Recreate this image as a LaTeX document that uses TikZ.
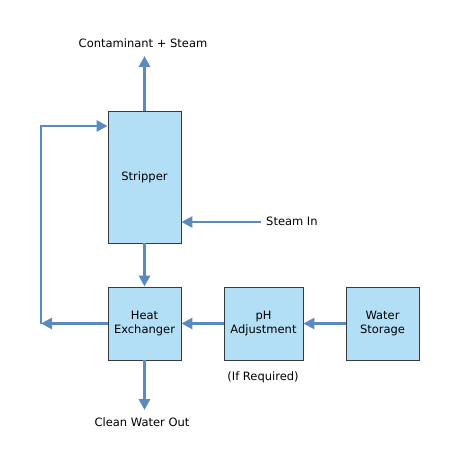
\documentclass[tikz,border=0pt]{standalone}
\usepackage{fontspec}
\setmainfont{DejaVu Sans}
\usetikzlibrary{arrows.meta}
\definecolor{boxfill}{HTML}{B2DFF6}
\definecolor{boxline}{HTML}{3A3A3A}
\definecolor{flow}{HTML}{5A8AC0}
\begin{document}
\begin{tikzpicture}[x=1pt,y=-1pt,
  unit/.style={draw=boxline,line width=0.9pt,fill=boxfill,inner sep=0pt,align=center,font=\fontsize{11.5}{14}\selectfont},
  flowline/.style={draw=flow,line width=2.9pt,-{Triangle[length=11pt,width=11pt]}},
  lbl/.style={font=\fontsize{11.5}{14}\selectfont,inner sep=0pt}]
\useasboundingbox (0,0) rectangle (460,465);
\node[unit,minimum width=73pt,minimum height=132pt] (strip) at (144.5,177) {Stripper};
\node[unit,minimum width=73pt,minimum height=73pt] (hx) at (144.5,323.5) {Heat\\Exchanger};
\node[unit,minimum width=79pt,minimum height=73pt] (ph) at (263.5,323.5) {pH\\Adjustment};
\node[unit,minimum width=73pt,minimum height=73pt] (ws) at (382.5,323.5) {Water\\Storage};
\node[lbl] (cont) at (143,43) {Contaminant + Steam};
\node[lbl,anchor=west] (steam) at (266,221) {Steam In};
\node[lbl] (ifreq) at (263,377) {(If Required)};
\node[lbl] (clean) at (142,422) {Clean Water Out};
\coordinate (toptip) at (144.5,56);
\coordinate (steamstart) at (261,222);
\coordinate (corner) at (41,323.5);
\coordinate (bottip) at (144.5,410);
\draw[flowline] (strip.north) -- (toptip);
\draw[flowline] (steamstart) -- (strip.east |- steamstart);
\draw[flowline] (strip.south) -- (hx.north);
\draw[flowline] (ws.west) -- (ph.east);
\draw[flowline] (ph.west) -- (hx.east);
\draw[flowline] (hx.west) -- (corner);
\draw[flowline] (corner) -- (41,126) -- (strip.west |- 0,126);
\draw[flowline] (hx.south) -- (bottip);
\end{tikzpicture}
\end{document}
